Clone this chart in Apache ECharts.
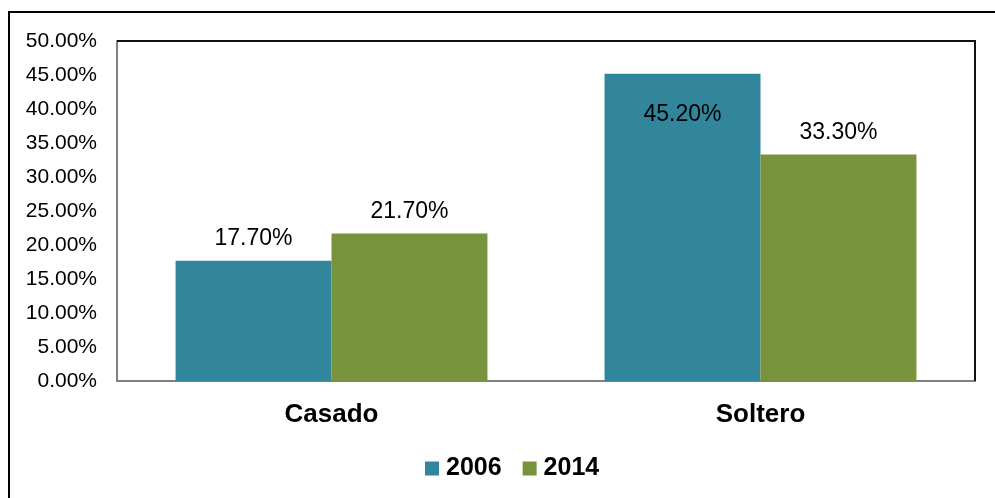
<!DOCTYPE html>
<html>
<head>
<meta charset="utf-8">
<script src="https://cdn.jsdelivr.net/npm/echarts@6/dist/echarts.min.js"></script>
<style>
    html, body { margin: 0; padding: 0; background: #fff; }
    #chart { width: 995px; height: 498px; }
</style>
</head>
<body>
<div id="chart"></div>
<script>
    var categories = ['Casado', 'Soltero'];
    var years = ['2006', '2014'];
    var values2006 = [17.7, 45.2];
    var values2014 = [21.7, 33.3];
    var yTicks = { min: 0, max: 50, interval: 5 };

    var chart = echarts.init(document.getElementById('chart'));
    var font = 'Liberation Sans, Arial, sans-serif';

    function pct(p) { return p.value.toFixed(2) + '%'; }

    chart.setOption({
        animation: false,
        textStyle: { fontFamily: font },
        graphic: [
            // outer frame of the picture
            { type: 'rect', shape: { x: 9, y: 12, width: 1000, height: 500 },
              style: { fill: 'none', stroke: '#000', lineWidth: 2 }, z: 0 },
            // plot frame (top + right)
            { type: 'polyline', shape: { points: [[117, 41], [975, 41], [975, 381]] },
              style: { fill: 'none', stroke: '#111', lineWidth: 2 }, z: 10 }
        ],
        legend: {
            data: years,
            bottom: 12,
            left: 420,
            itemWidth: 14,
            itemHeight: 14,
            itemGap: 21,
            icon: 'rect',
            textStyle: { fontSize: 25, fontWeight: 'bold', color: '#000', fontFamily: font, padding: [0, 0, 0, 2] }
        },
        grid: { left: 117, right: 20, top: 41, bottom: 117 },
        xAxis: {
            type: 'category',
            data: categories,
            axisLine: { lineStyle: { color: '#808080', width: 2 } },
            axisTick: { show: false },
            axisLabel: { fontSize: 26, fontWeight: 'bold', color: '#000', margin: 21 }
        },
        yAxis: {
            type: 'value',
            min: yTicks.min,
            max: yTicks.max,
            interval: yTicks.interval,
            axisLine: { show: true, lineStyle: { color: '#808080', width: 2 } },
            axisTick: { show: false },
            splitLine: { show: false },
            axisLabel: {
                fontSize: 21, color: '#000', margin: 20,
                formatter: function (v) { return v.toFixed(2) + '%'; }
            }
        },
        series: [
            {
                name: '2006',
                type: 'bar',
                data: [
                    values2006[0],
                    { value: values2006[1], label: { position: 'insideTop', distance: 30 } }
                ],
                barGap: '0%',
                barCategoryGap: '27.3%',
                itemStyle: { color: '#31869B' },
                label: { show: true, position: 'top', distance: 10, fontSize: 23, color: '#000', formatter: pct }
            },
            {
                name: '2014',
                type: 'bar',
                data: values2014,
                barGap: '0%',
                barCategoryGap: '27.3%',
                itemStyle: { color: '#77933C' },
                label: { show: true, position: 'top', distance: 10, fontSize: 23, color: '#000', formatter: pct }
            }
        ]
    });
</script>
</body>
</html>
